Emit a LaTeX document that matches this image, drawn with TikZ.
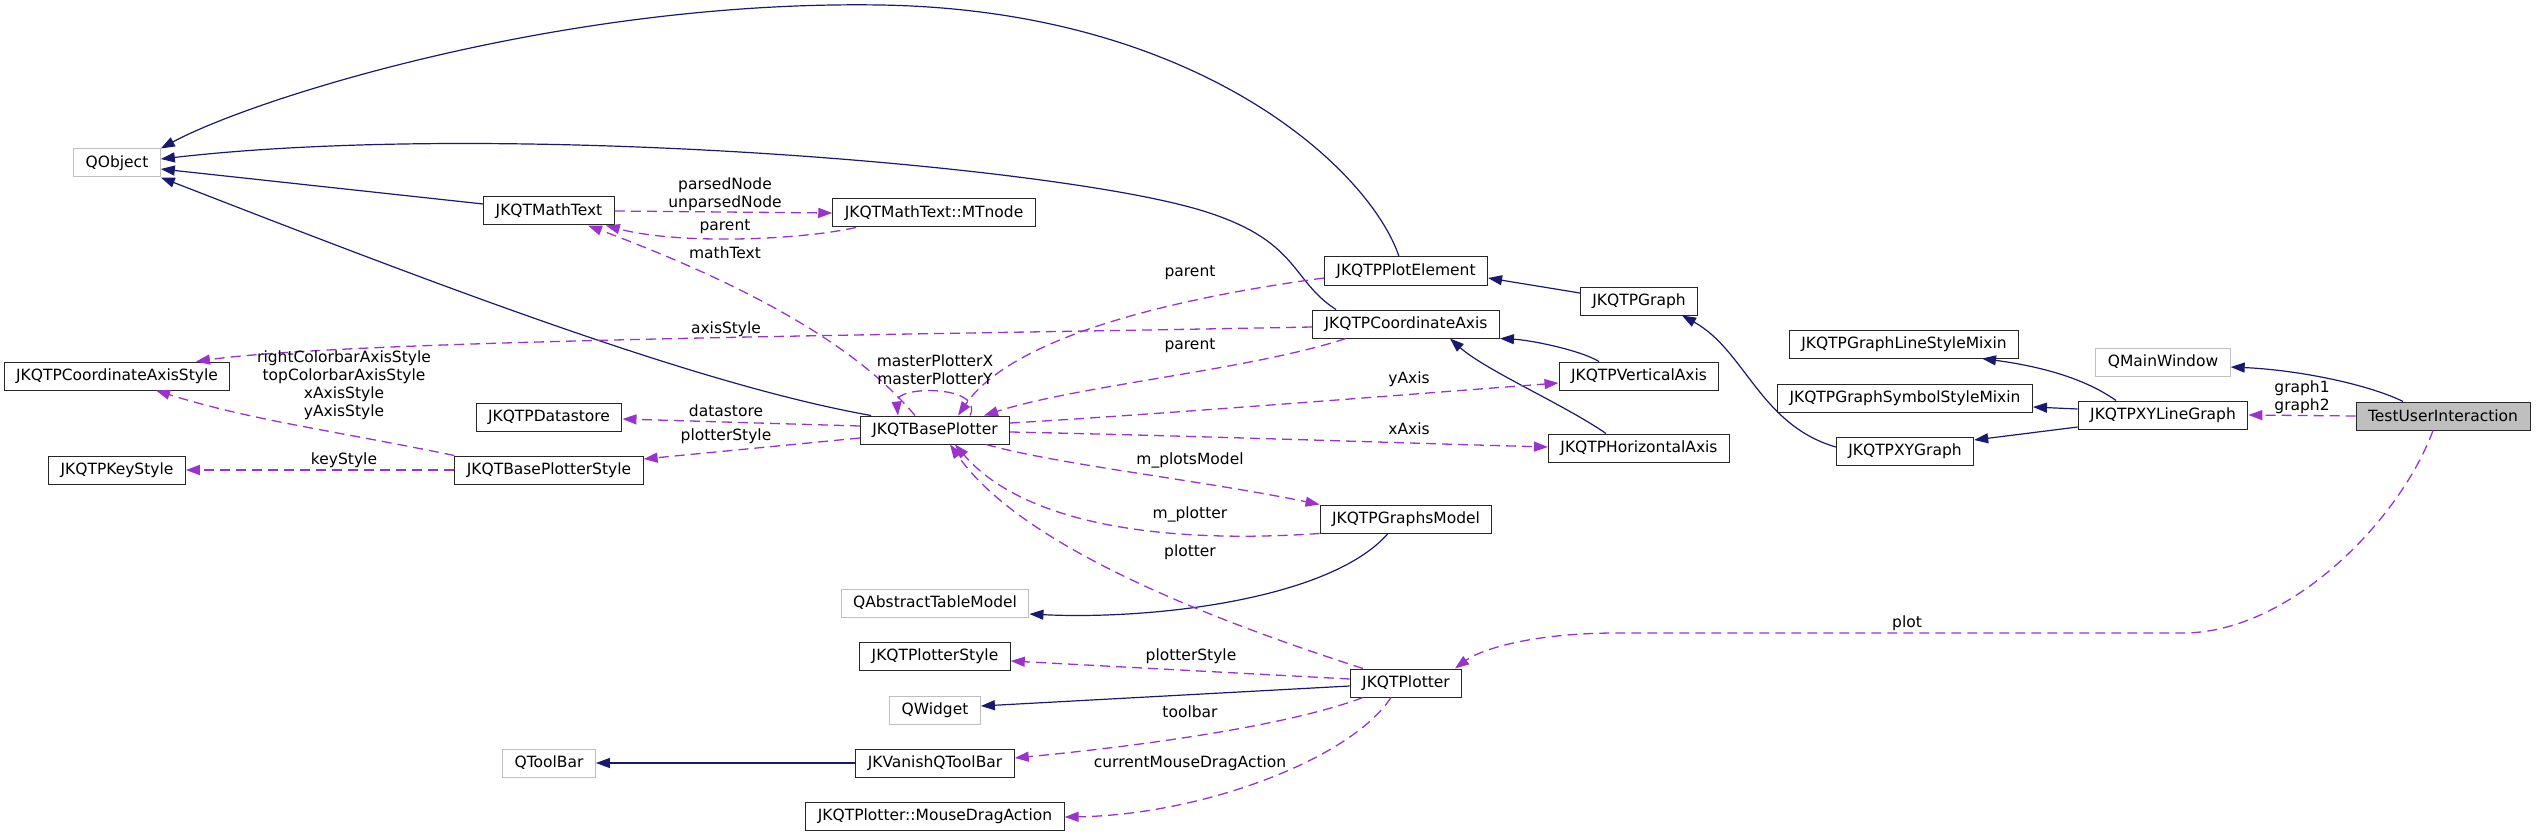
\documentclass[tikz,border=0pt]{standalone}
\usepackage{fontspec}
\setmainfont{DejaVu Sans}
\usetikzlibrary{arrows.meta}
\definecolor{inhblue}{HTML}{191970}
\definecolor{usepurple}{HTML}{9A32CD}
\definecolor{extgrey}{HTML}{BFBFBF}
\begin{document}
\begin{tikzpicture}[x=1pt,y=-1pt,>={Triangle[length=14pt,width=10pt]},
	cls/.style={draw=black!85,line width=1pt,fill=white,font=\fontsize{15.5pt}{18pt}\selectfont,inner xsep=12pt,inner ysep=0pt,minimum height=28pt},
	ext/.style={cls,draw=extgrey},
	inh/.style={->,draw=inhblue,line width=1.2pt},
	use/.style={->,draw=usepurple,line width=1.3pt,dash pattern=on 10pt off 6pt},
	lbl/.style={font=\fontsize{15.5pt}{18pt}\selectfont,inner sep=0pt,align=center}]
		\useasboundingbox (0,0) rectangle (2536,837);
		\node[ext] (qobj) at (117,163) {QObject};
		\node[cls] (mt) at (549,211) {JKQTMathText};
		\node[cls] (mtn) at (934,213) {JKQTMathText::MTnode};
		\node[cls] (cas) at (117,376) {JKQTPCoordinateAxisStyle};
		\node[cls] (ds) at (549,417) {JKQTPDatastore};
		\node[cls] (bps) at (549,470) {JKQTBasePlotterStyle};
		\node[cls] (ks) at (117,470) {JKQTPKeyStyle};
		\node[cls] (bp) at (935,430) {JKQTBasePlotter};
		\node[cls] (pe) at (1406,271) {JKQTPPlotElement};
		\node[cls] (ca) at (1406,324) {JKQTPCoordinateAxis};
		\node[cls] (gr) at (1639,301) {JKQTPGraph};
		\node[cls] (va) at (1639,376) {JKQTPVerticalAxis};
		\node[cls] (ha) at (1639,448) {JKQTPHorizontalAxis};
		\node[cls] (gm) at (1406,519) {JKQTPGraphsModel};
		\node[ext] (qatm) at (935,603) {QAbstractTableModel};
		\node[cls] (ps) at (935,656) {JKQTPlotterStyle};
		\node[ext] (qw) at (935,710) {QWidget};
		\node[cls] (vtb) at (935,763) {JKVanishQToolBar};
		\node[cls] (mda) at (935,816) {JKQTPlotter::MouseDragAction};
		\node[ext] (qtb) at (549,763) {QToolBar};
		\node[cls] (plt) at (1406,683) {JKQTPlotter};
		\node[cls] (lsm) at (1904,344) {JKQTPGraphLineStyleMixin};
		\node[cls] (ssm) at (1905,398) {JKQTPGraphSymbolStyleMixin};
		\node[cls] (xyg) at (1905,451) {JKQTPXYGraph};
		\node[ext] (qmw) at (2163,362) {QMainWindow};
		\node[cls] (xylg) at (2163,415) {JKQTPXYLineGraph};
		\node[cls,fill=extgrey] (tui) at (2443,416) {TestUserInteraction};
		\draw[inh] ([xshift=-7pt]pe.north) .. controls (1370,170) and (1200,10) .. (880,5) .. controls (560,0) and (250,100) .. (qobj.north east);
		\draw[inh] ([xshift=-70pt]ca.north) .. controls (1290,280) and (1300,240) .. (1200,210) .. controls (1050,165) and (500,120) .. ([yshift=4pt]qobj.east);
		\draw[inh] ([yshift=7pt]mt.west) -- ([yshift=-6pt]qobj.east);
		\draw[inh] ([xshift=-64pt]bp.north) .. controls (700,385) and (450,290) .. (qobj.south east);
		\draw[inh] ([yshift=8pt]gr.west) -- ([yshift=-7pt]pe.east);
		\draw[inh] ([xshift=-40pt]va.north) .. controls (1580,350) and (1530,340) .. (ca.south east);
		\draw[inh] ([xshift=-33pt]ha.north) .. controls (1565,405) and (1485,370) .. ([xshift=44pt]ca.south);
		\draw[inh] ([yshift=4pt]xyg.west) .. controls (1760,425) and (1745,350) .. ([xshift=43pt]gr.south);
		\draw[inh] ([xshift=-47pt]xylg.north) .. controls (2080,375) and (2030,365) .. ([xshift=78pt]lsm.south);
		\draw[inh] ([yshift=6pt]xylg.west) -- ([yshift=-9pt]ssm.east);
		\draw[inh] ([yshift=-12pt]xylg.west) -- ([yshift=11pt]xyg.east);
		\draw[inh] ([xshift=-40pt]tui.north) .. controls (2370,385) and (2300,370) .. ([yshift=-5pt]qmw.east);
		\draw[inh] ([xshift=-18pt]gm.south) .. controls (1330,600) and (1150,620) .. ([yshift=-11pt]qatm.east);
		\draw[inh] ([yshift=-3pt]plt.west) -- ([yshift=4pt]qw.east);
		\draw[inh] (vtb.west) -- (qtb.east);
		\draw[use] (mt.east) -- (mtn.west);
		\draw[use] ([xshift=-78pt]mtn.south) .. controls (800,240) and (680,245) .. ([xshift=-9pt]mt.south east);
		\draw[use] ([xshift=-20pt]bp.north) .. controls (860,350) and (760,290) .. ([xshift=39pt]mt.south);
		\draw[use] ([xshift=35pt]bp.north) .. controls (985,385) and (895,385) .. ([xshift=-37pt]bp.north);
		\draw[use] ([yshift=-7pt]pe.west) .. controls (1160,300) and (1010,340) .. ([xshift=23pt]bp.north);
		\draw[use] ([xshift=-60pt]ca.south) .. controls (1250,370) and (1080,385) .. ([xshift=49pt]bp.north);
		\draw[use] ([yshift=-3pt]ca.west) .. controls (900,335) and (350,340) .. ([xshift=79pt]cas.north);
		\draw[use] ([yshift=4pt]bp.west) -- ([yshift=-2pt]ds.east);
		\draw[use] ([yshift=-8pt]bp.west) -- ([yshift=11pt]bps.east);
		\draw[use] (bps.north west) .. controls (330,430) and (250,420) .. ([xshift=39pt]cas.south);
		\draw[use] (bps.west) -- (ks.east);
		\draw[use] ([yshift=7pt]bp.east) .. controls (1150,415) and (1400,395) .. ([yshift=-7pt]va.west);
		\draw[use] ([yshift=-2pt]bp.east) .. controls (1200,436) and (1400,443) .. ([yshift=1pt]ha.west);
		\draw[use] ([xshift=51pt]bp.south) .. controls (1060,465) and (1200,480) .. (gm.north west);
		\draw[use] (gm.south west) .. controls (1150,545) and (1020,520) .. ([xshift=20pt]bp.south);
		\draw[use] ([xshift=-43pt]plt.north) .. controls (1150,600) and (1010,530) .. ([xshift=15pt]bp.south);
		\draw[use] ([yshift=4pt]plt.west) -- ([yshift=-5pt]ps.east);
		\draw[use] ([xshift=-43pt]plt.south) .. controls (1290,725) and (1150,745) .. ([yshift=5pt]vtb.east);
		\draw[use] ([xshift=-15pt]plt.south) .. controls (1350,760) and (1200,815) .. ([yshift=-1pt]mda.east);
		\draw[use] ([xshift=-10pt]tui.south) .. controls (2400,520) and (2290,633) .. (2183,633) -- (1617,633) .. controls (1530,633) and (1480,650) .. ([xshift=49pt]plt.north);
		\draw[use] (tui.west) -- (xylg.east);
		\node[lbl] (lcas) at (344,385) {rightColorbarAxisStyle\\topColorbarAxisStyle\\xAxisStyle\\yAxisStyle};
		\node[lbl] (lks) at (344,460) {keyStyle};
		\node[lbl] (lmtn) at (725,194) {parsedNode\\unparsedNode};
		\node[lbl] (lpar) at (725,227) {parent};
		\node[lbl] (lmt) at (725,253) {mathText};
		\node[lbl] (laxs) at (726,329) {axisStyle};
		\node[lbl] (lmaster) at (935,370) {masterPlotterX\\masterPlotterY};
		\node[lbl] (lds) at (726,411) {datastore};
		\node[lbl] (lbps) at (726,436) {plotterStyle};
		\node[lbl] (lpe) at (1190,273) {parent};
		\node[lbl] (lca) at (1190,346) {parent};
		\node[lbl] (lya) at (1409,379) {yAxis};
		\node[lbl] (lxa) at (1409,429) {xAxis};
		\node[lbl] (lgm) at (1190,460) {m\_plotsModel};
		\node[lbl] (lmp) at (1190,514) {m\_plotter};
		\node[lbl] (lplt) at (1190,552) {plotter};
		\node[lbl] (lps) at (1191,656) {plotterStyle};
		\node[lbl] (ltb) at (1190,712) {toolbar};
		\node[lbl] (lmda) at (1190,763) {currentMouseDragAction};
		\node[lbl] (lgraph) at (2302,397) {graph1\\graph2};
		\node[lbl] (lplot) at (1907,623) {plot};
\end{tikzpicture}
\end{document}
